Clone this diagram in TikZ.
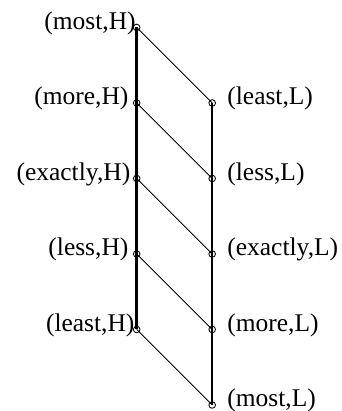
\documentclass[tikz,border=0pt,12pt]{standalone}
\usepackage{fontspec}
\setmainfont{Liberation Serif}
\usetikzlibrary{calc}

\tikzset{
    dot/.style={draw, circle, inner sep=0pt, minimum size=0.11cm, line width=0.4pt},
    hline/.style={line width=1.45pt},
    lline/.style={line width=1pt},
    link/.style={line width=0.45pt}
}

\begin{document}
\begin{tikzpicture}
    \useasboundingbox (0,0) rectangle (5.662,6.805);

    % H column and L column
    \foreach \n/\y in {most/6.35, more/5.1, exactly/3.85, less/2.6, least/1.35}
        \node[dot] (\n H) at (2.263,\y) {};
    \foreach \n/\y in {least/5.1, less/3.85, exactly/2.6, more/1.35, most/0.1}
        \node[dot] (\n L) at (3.513,\y) {};

    % labels
    \foreach \n/\d in {most/0.01, more/0.13, exactly/0.1, less/0.13, least/0.03}
        \node[anchor=base east, inner sep=0pt] (\n Hlbl) at ([shift={(-\d,-0.03)}]\n H) {(\n,H)};
    \foreach \n in {least, less, exactly, more, most}
        \node[anchor=base west, inner sep=0pt] (\n Llbl) at ([shift={(0.245,-0.03)}]\n L) {(\n,L)};

    \draw[hline] (mostH.center) -- (leastH.center);
    \draw[lline] (leastL.center) -- (mostL.center);

    \draw[link] (mostH.center) -- (leastL.center);
    \draw[link] (moreH.center) -- (lessL.center);
    \draw[link] (exactlyH.center) -- (exactlyL.center);
    \draw[link] (lessH.center) -- (moreL.center);
    \draw[link] (leastH.center) -- (mostL.center);
\end{tikzpicture}
\end{document}
